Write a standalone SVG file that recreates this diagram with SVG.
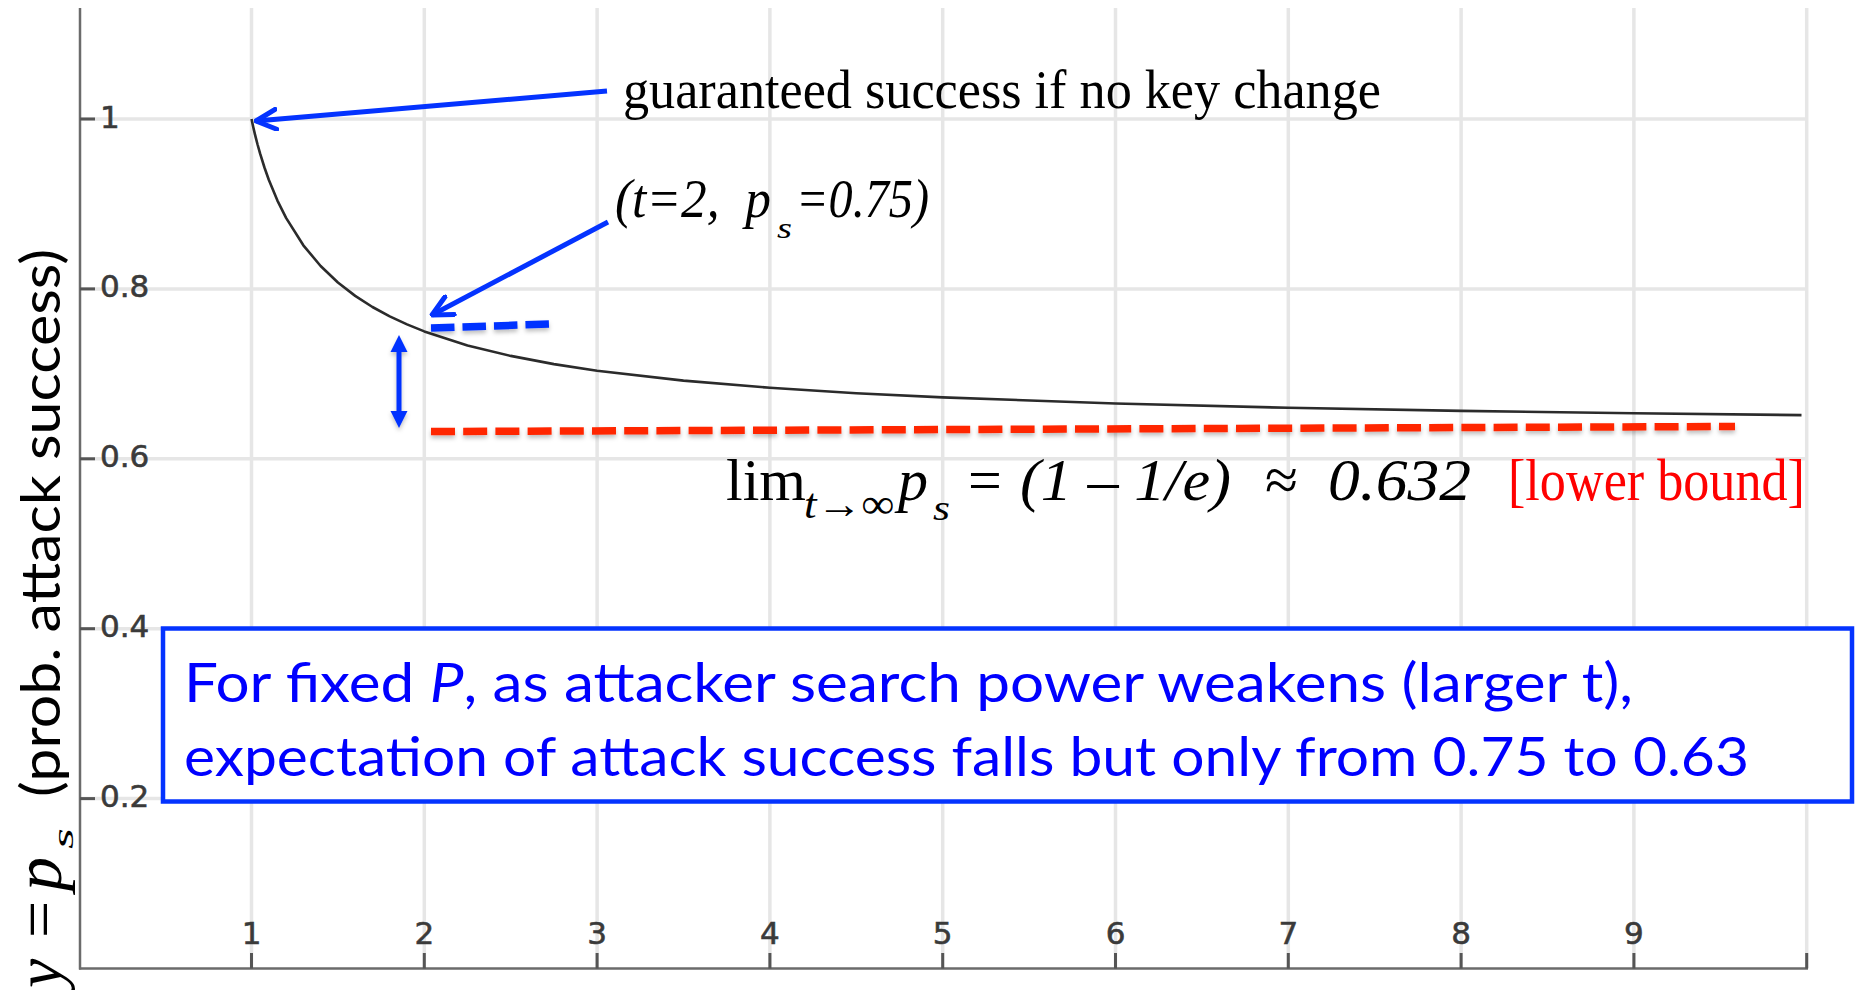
<svg xmlns="http://www.w3.org/2000/svg" width="1856" height="990" viewBox="0 0 1856 990">
  <style>
    .grid { stroke: #e6e6e6; stroke-width: 3.5; }
    .axis { stroke: #6b6b6b; stroke-width: 2.5; fill: none; }
    .tick { stroke: #555555; stroke-width: 3; }
    .tl { font-family: "DejaVu Sans", sans-serif; font-size: 31px; fill: #3a3a3a; stroke: #3a3a3a; stroke-width: 0.6; }
    .tlx { text-anchor: middle; }
    .curve { fill: none; stroke: #2b2b2b; stroke-width: 2.6; stroke-linejoin: round; }
    .serif { font-family: "Liberation Serif", "Times New Roman", serif; fill: #000000; }
    .it { font-style: italic; }
    .sans { font-family: Lato, "Open Sans", sans-serif; }
    .pointer { stroke: #0433FF; stroke-width: 5; fill: none; marker-end: url(#chev); }
    .bluedash { stroke: #0433FF; stroke-width: 7.5; stroke-dasharray: 23.5 8; fill: none; }
    .reddash { stroke: #FF2600; stroke-width: 7.5; stroke-dasharray: 24 8.2; fill: none; }
    .span { stroke: #0433FF; stroke-width: 5; fill: none; marker-start: url(#tri); marker-end: url(#tri); }
    .box { fill: #ffffff; stroke: #0433FF; stroke-width: 4.5; }
    .boxtext { font-family: Lato, "Open Sans", sans-serif; font-size: 54px; fill: #0000FF; }
  </style>
  <defs>
    <marker id="chev" viewBox="0 0 24 24" refX="22" refY="12" markerWidth="24" markerHeight="24" markerUnits="userSpaceOnUse" orient="auto">
      <path d="M2,2 L22,12 L2,22" fill="none" stroke="#0433FF" stroke-width="5" stroke-linecap="round" stroke-linejoin="round"/>
    </marker>
    <marker id="tri" viewBox="0 0 20 20" refX="8.2" refY="10" markerWidth="17" markerHeight="18" markerUnits="userSpaceOnUse" orient="auto-start-reverse">
      <path d="M0,0 L20,10 L0,20 z" fill="#0433FF"/>
    </marker>
    <filter id="shadow" filterUnits="userSpaceOnUse" x="0" y="0" width="1856" height="990">
      <feDropShadow dx="0" dy="3" stdDeviation="2" flood-color="#000000" flood-opacity="0.25"/>
    </filter>
  </defs>

  <rect width="1856" height="990" fill="#ffffff"/>

  <!-- plot grid -->
  <g id="grid">
    <line class="grid" x1="251.5" y1="8" x2="251.5" y2="968"/>
    <line class="grid" x1="424.3" y1="8" x2="424.3" y2="968"/>
    <line class="grid" x1="597.1" y1="8" x2="597.1" y2="968"/>
    <line class="grid" x1="769.9" y1="8" x2="769.9" y2="968"/>
    <line class="grid" x1="942.7" y1="8" x2="942.7" y2="968"/>
    <line class="grid" x1="1115.5" y1="8" x2="1115.5" y2="968"/>
    <line class="grid" x1="1288.3" y1="8" x2="1288.3" y2="968"/>
    <line class="grid" x1="1461.1" y1="8" x2="1461.1" y2="968"/>
    <line class="grid" x1="1633.9" y1="8" x2="1633.9" y2="968"/>
    <line class="grid" x1="1806.7" y1="8" x2="1806.7" y2="968"/>
    <line class="grid" x1="80" y1="119" x2="1806.7" y2="119"/>
    <line class="grid" x1="80" y1="288.9" x2="1806.7" y2="288.9"/>
    <line class="grid" x1="80" y1="458.8" x2="1806.7" y2="458.8"/>
    <line class="grid" x1="80" y1="628.7" x2="1806.7" y2="628.7"/>
    <line class="grid" x1="80" y1="798.6" x2="1806.7" y2="798.6"/>
  </g>

  <!-- axes, ticks and tick labels -->
  <g id="axes">
    <line class="axis" x1="80" y1="8" x2="80" y2="969.5"/>
    <line class="axis" x1="79" y1="968.5" x2="1808" y2="968.5" stroke-width="3"/>
    <line class="tick" x1="80" y1="119" x2="95" y2="119"/>
    <line class="tick" x1="80" y1="288.9" x2="95" y2="288.9"/>
    <line class="tick" x1="80" y1="458.8" x2="95" y2="458.8"/>
    <line class="tick" x1="80" y1="628.7" x2="95" y2="628.7"/>
    <line class="tick" x1="80" y1="798.6" x2="95" y2="798.6"/>
    <line class="tick" x1="251.5" y1="953" x2="251.5" y2="968.5"/>
    <line class="tick" x1="424.3" y1="953" x2="424.3" y2="968.5"/>
    <line class="tick" x1="597.1" y1="953" x2="597.1" y2="968.5"/>
    <line class="tick" x1="769.9" y1="953" x2="769.9" y2="968.5"/>
    <line class="tick" x1="942.7" y1="953" x2="942.7" y2="968.5"/>
    <line class="tick" x1="1115.5" y1="953" x2="1115.5" y2="968.5"/>
    <line class="tick" x1="1288.3" y1="953" x2="1288.3" y2="968.5"/>
    <line class="tick" x1="1461.1" y1="953" x2="1461.1" y2="968.5"/>
    <line class="tick" x1="1633.9" y1="953" x2="1633.9" y2="968.5"/>
    <line class="tick" x1="1806.7" y1="953" x2="1806.7" y2="968.5"/>
    <text class="tl" x="100" y="127.5">1</text>
    <text class="tl" x="100" y="297.4">0.8</text>
    <text class="tl" x="100" y="467.3">0.6</text>
    <text class="tl" x="100" y="637.2">0.4</text>
    <text class="tl" x="100" y="807.1">0.2</text>
    <text class="tl tlx" x="251.5" y="944">1</text>
    <text class="tl tlx" x="424.3" y="944">2</text>
    <text class="tl tlx" x="597.1" y="944">3</text>
    <text class="tl tlx" x="769.9" y="944">4</text>
    <text class="tl tlx" x="942.7" y="944">5</text>
    <text class="tl tlx" x="1115.5" y="944">6</text>
    <text class="tl tlx" x="1288.3" y="944">7</text>
    <text class="tl tlx" x="1461.1" y="944">8</text>
    <text class="tl tlx" x="1633.9" y="944">9</text>
  </g>

  <!-- p_s = 1 - (1 - 1/t)^t -->
  <g id="curve">
    <polyline class="curve" points="251.5,119 251.7,119.8 252.36,123.1 253.23,127 254.96,134.4 257.55,144.5 260.14,153.7 264.46,167.5 268.78,179.8 277.42,200.6 286.06,217.9 303.34,245.3 320.62,266 337.9,282.5 355.18,295.9 372.46,307 389.74,316.4 407.02,324.4 424.3,331.4 467.5,345.4 510.7,355.9 553.9,364.1 597.1,370.7 683.5,380.6 769.9,387.8 856.3,393.2 942.7,397.4 1115.5,403.5 1288.3,407.8 1461.1,410.9 1633.9,413.3 1801.5,415.1"/>
  </g>

  <!-- annotation connectors -->
  <g id="connectors">
    <line class="pointer" x1="607" y1="91" x2="256" y2="121"/>
    <line class="pointer" x1="608" y1="222" x2="432" y2="315"/>
    <g filter="url(#shadow)">
      <line class="bluedash" x1="431" y1="328" x2="551" y2="324"/>
      <line class="reddash" x1="431" y1="431.5" x2="1735" y2="426.5"/>
      <line class="span" x1="399" y1="345" x2="399" y2="418"/>
    </g>
  </g>

  <g id="label-guaranteed">
    <text class="serif" x="623" y="108" font-size="54" textLength="758" lengthAdjust="spacingAndGlyphs">guaranteed success if no key change</text>
  </g>

  <g id="label-point">
    <text class="serif it" x="615" y="217" font-size="54" textLength="156" lengthAdjust="spacingAndGlyphs" xml:space="preserve">(t=2,  p</text>
    <text class="serif it" x="777" y="238" font-size="30" textLength="15" lengthAdjust="spacingAndGlyphs">s</text>
    <text class="serif it" x="796" y="217" font-size="54" textLength="133" lengthAdjust="spacingAndGlyphs">=0.75)</text>
  </g>

  <g id="label-limit">
    <text class="serif" x="726" y="500" font-size="60">lim</text>
    <text class="serif it" x="804" y="518" font-size="42" textLength="90" lengthAdjust="spacingAndGlyphs">t→∞</text>
    <text class="serif it" x="898" y="500" font-size="60">p</text>
    <text class="serif it" x="933" y="520" font-size="36" textLength="17" lengthAdjust="spacingAndGlyphs">s</text>
    <text class="serif" x="968" y="500" font-size="60">=</text>
    <text class="serif it" x="1020" y="500" font-size="60" textLength="211" lengthAdjust="spacingAndGlyphs" xml:space="preserve">(1 – 1/e)</text>
    <text class="serif" x="1265" y="500" font-size="60">≈</text>
    <text class="serif it" x="1328" y="500" font-size="60" textLength="143" lengthAdjust="spacingAndGlyphs">0.632</text>
    <text class="serif" x="1508" y="500" font-size="60" style="fill:#FF0000" textLength="297" lengthAdjust="spacingAndGlyphs">[lower bound]</text>
  </g>

  <g id="y-label" transform="rotate(-90)">
    <text class="serif it" x="-988" y="61" font-size="66">y</text>
    <text class="serif" x="-938" y="61" font-size="66">=</text>
    <text class="serif it" x="-891" y="61" font-size="68">p</text>
    <text class="serif it" x="-849" y="73" font-size="30" textLength="21" lengthAdjust="spacingAndGlyphs">s</text>
    <text class="sans" x="-797" y="60" font-size="54" fill="#000000" textLength="548" lengthAdjust="spacingAndGlyphs">(prob. attack success)</text>
  </g>

  <g id="note-box">
    <rect class="box" x="163" y="628.5" width="1689" height="173"/>
    <text class="boxtext" x="184" y="701.5" textLength="1449" lengthAdjust="spacingAndGlyphs">For fixed <tspan font-style="italic">P</tspan>, as attacker search power weakens (larger t),</text>
    <text class="boxtext" x="184" y="775.5" textLength="1565" lengthAdjust="spacingAndGlyphs">expectation of attack success falls but only from 0.75 to 0.63</text>
  </g>
</svg>
